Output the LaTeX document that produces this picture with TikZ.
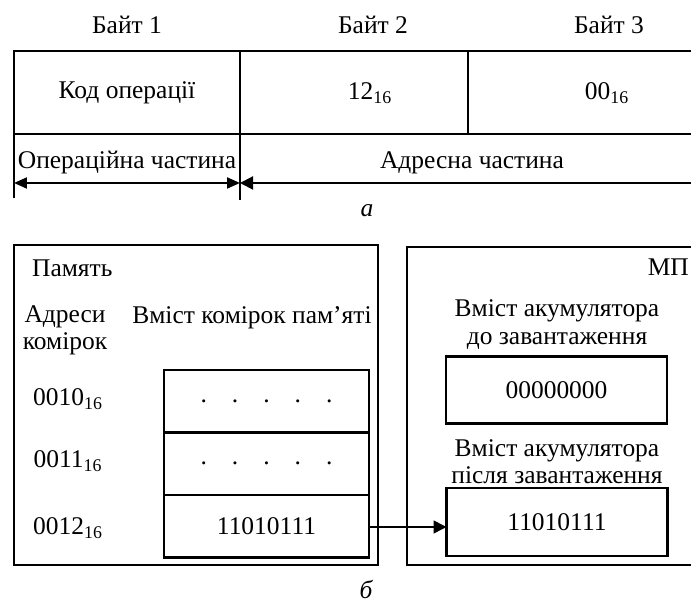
\documentclass[tikz,border=0pt]{standalone}
\usepackage{fontspec}
\setmainfont{Liberation Serif}
\usetikzlibrary{arrows.meta,positioning}
\tikzset{
  txt/.style    ={align=center,inner sep=1pt,font=\fontsize{14.5}{15.5}\selectfont},
  frame/.style  ={line width=1.3pt},
  cell/.style   ={rectangle,draw,line width=1.3pt,outer sep=0pt,minimum width=4.1cm,
                  minimum height=1.25cm,align=center,font=\fontsize{14.5}{15.5}\selectfont},
  accbox/.style ={rectangle,draw,line width=1.3pt,outer sep=0pt,minimum width=4.42cm,
                  minimum height=1.34cm,align=center,font=\fontsize{14.5}{15.5}\selectfont},
  arr/.style    ={-{Triangle[length=0.26cm,width=0.26cm]},line width=0.9pt},
  dimarr/.style ={{Triangle[length=0.26cm,width=0.22cm]}-{Triangle[length=0.26cm,width=0.22cm]},
                  line width=1.1pt}
}
\newcommand{\dotrow}{.\hspace{0.5cm}.\hspace{0.5cm}.\hspace{0.5cm}.\hspace{0.5cm}.}

\begin{document}
\begin{tikzpicture}
  \useasboundingbox (0,0) rectangle (13.82,12.1);

  % Instruction format
  \node (byte1) at (2.54, 11.6)  [txt] {Байт 1};
  \node (byte2) at (7.46, 11.6)  [txt] {Байт 2};
  \node (byte3) at (12.18, 11.6) [txt] {Байт 3};

  \draw[frame] (0.28, 8.14) -- (0.28, 11.08) -- (13.82, 11.08);
  \draw[frame] (0.28, 9.42) -- (13.82, 9.42);
  \draw[frame] (4.8, 11.08) -- (4.8, 8.1);
  \draw[frame] (9.36, 11.08) -- (9.36, 9.42);

  \node (opcode) at (2.54, 10.24)  [txt] {Код операції};
  \node (addr2)  at (7.4, 10.24)   [txt] {12\textsubscript{16}};
  \node (addr3)  at (12.14, 10.24) [txt] {00\textsubscript{16}};

  \node (oppart)  at (2.54, 8.84) [txt] {Операційна частина};
  \node (adrpart) at (9.44, 8.84) [txt] {Адресна частина};

  % Field widths
  \coordinate (opL)  at (0.28, 8.44);
  \coordinate (opR)  at (4.8, 8.44);
  \coordinate (adrR) at (13.82, 8.44);
  \draw[dimarr] (opL) -- (opR);
  \draw[arr, line width=1.1pt] (adrR) -- (opR);

  \node (capa) at (7.34, 7.88) [txt] {\itshape а};

  % Memory
  \draw[frame] (0.28, 0.8) rectangle (7.56, 7.2);
  \node (mem)   at (0.6, 6.74) [txt, anchor=west] {Память};
  \node (adrhd) at (1.3, 5.49) [txt] {Адреси\\комірок};
  \node (conhd) at (5.04, 5.74) [txt] {Вміст комірок пам’яті};

  \node (c1) at (5.33, 4.075) [cell] {\dotrow};
  \node (c2) [cell, below=0pt of c1] {\dotrow};
  \node (c3) [cell, below=0pt of c2] {11010111};

  \node (a1) at (1.36, 4.12) [txt] {0010\textsubscript{16}};
  \node (a2) at (1.36, 2.88) [txt] {0011\textsubscript{16}};
  \node (a3) at (1.36, 1.54) [txt] {0012\textsubscript{16}};

  % Microprocessor
  \draw[frame] (13.82, 0.8) -- (8.14, 0.8) -- (8.14, 7.16) -- (13.82, 7.16);
  \node (mp) at (13.82, 6.76) [txt, anchor=east] {МП};

  \node (befhd) at (11.14, 5.61) [txt] {Вміст акумулятора\\до завантаження};
  \node (acc1)  at (11.13, 4.3)  [accbox] {00000000};
  \node (afthd) at (11.14, 2.87) [txt] {Вміст акумулятора\\після завантаження};
  \node (acc2)  at (11.14, 1.66) [accbox, minimum height=1.36cm] {11010111};

  % Load
  \draw[arr] (c3.east |- 0, 1.56) -- (acc2.west |- 0, 1.56);

  \node (capb) at (7.32, 0.3) [txt] {\itshape б};
\end{tikzpicture}
\end{document}
